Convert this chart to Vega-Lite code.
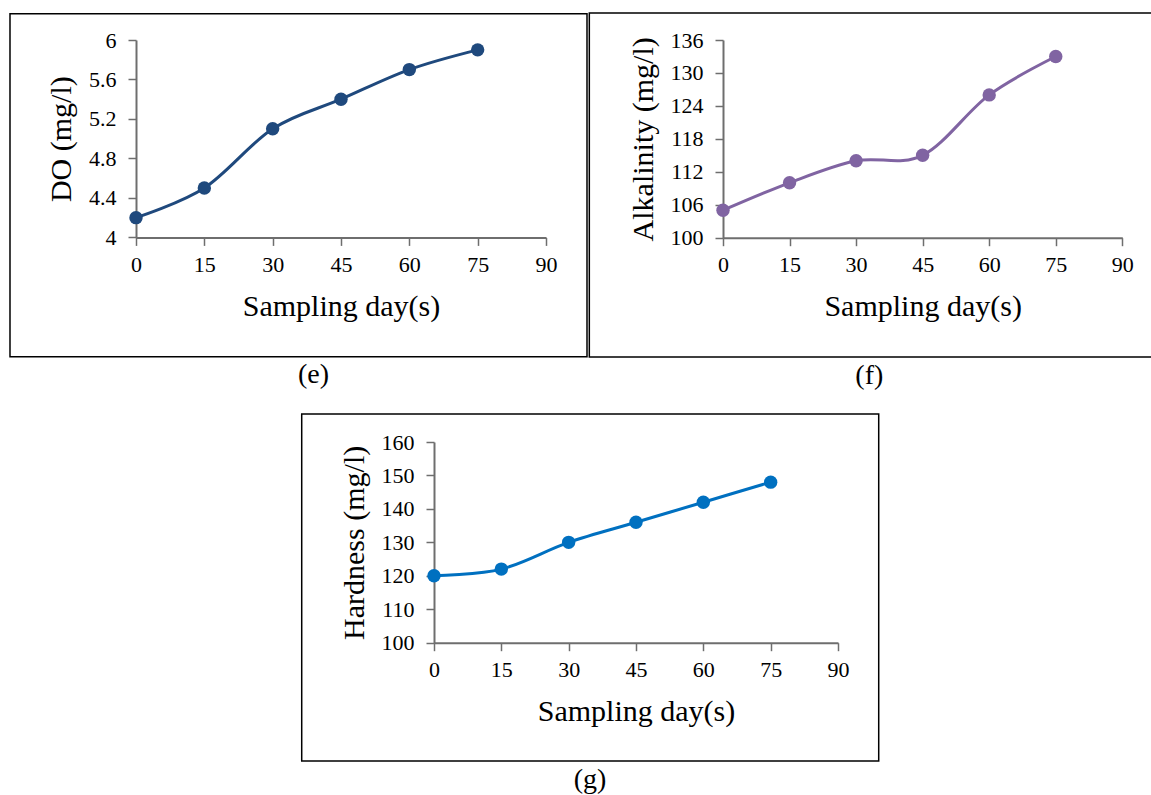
{
  "$schema": "https://vega.github.io/schema/vega-lite/v6.json",
  "padding": {"left": 9, "top": 12, "right": 0, "bottom": 0},
  "background": "white",
  "config": {
    "view": {"stroke": null},
    "font": "Liberation Serif",
    "axis": {
      "grid": false,
      "domainColor": "#6e6e6e", "domainWidth": 2,
      "tickColor": "#6e6e6e", "tickWidth": 1.5, "tickSize": 8,
      "labelFont": "Liberation Serif", "labelFontSize": 22, "labelColor": "#000000",
      "labelFlush": false, "labelOverlap": false,
      "titleFont": "Liberation Serif", "titleFontSize": 30, "titleFontWeight": "normal", "titleColor": "#000000"
    },
    "axisX": {"labelPadding": 9, "titlePadding": 16},
    "axisY": {"labelPadding": 12, "titlePadding": 12},
    "title": {"font": "Liberation Serif", "fontSize": 28, "fontWeight": "normal", "color": "#000000", "orient": "bottom", "anchor": "middle", "frame": "bounds", "offset": 4}
  },
  "spacing": 23,
  "vconcat": [
    {
      "spacing": 0,
      "hconcat": [
        {
          "width": 410, "height": 197.4,
          "title": {"text": "(e)", "dx": 15},
          "layer": [
            {
              "data": {"values": [
                {"day": 0, "DO": 4.2}, {"day": 15, "DO": 4.5}, {"day": 30, "DO": 5.1},
                {"day": 45, "DO": 5.4}, {"day": 60, "DO": 5.7}, {"day": 75, "DO": 5.9}
              ]},
              "encoding": {
                "x": {"field": "day", "type": "quantitative", "scale": {"domain": [0, 90], "nice": false},
                      "axis": {"values": [0, 15, 30, 45, 60, 75, 90], "format": "d", "title": "Sampling day(s)"}},
                "y": {"field": "DO", "type": "quantitative", "scale": {"domain": [4, 6], "nice": false, "zero": false},
                      "axis": {"values": [4, 4.4, 4.8, 5.2, 5.6, 6], "format": ".1~f", "title": "DO (mg/l)"}}
              },
              "layer": [
                {"mark": {"type": "line", "interpolate": "cardinal", "color": "#1F497D", "strokeWidth": 3}},
                {"mark": {"type": "circle", "size": 180, "color": "#1F497D", "opacity": 1}}
              ]
            },
            {
              "data": {"values": [{}]},
              "mark": {"type": "rect", "fill": null, "stroke": "#000000", "strokeWidth": 1.5, "clip": false},
              "encoding": {
                "x": {"datum": -27.66, "type": "quantitative",
                      "axis": {"values": [0, 15, 30, 45, 60, 75, 90], "format": "d", "title": "Sampling day(s)"}},
                "x2": {"datum": 99.0},
                "y": {"datum": 6.266, "type": "quantitative",
                      "axis": {"values": [4, 4.4, 4.8, 5.2, 5.6, 6], "format": ".1~f", "title": "DO (mg/l)"}},
                "y2": {"datum": 2.791}
              }
            }
          ]
        },
        {
          "width": 399.3, "height": 197.7,
          "title": {"text": "(f)", "dx": -2},
          "layer": [
            {
              "data": {"values": [
                {"day": 0, "Alkalinity": 105}, {"day": 15, "Alkalinity": 110}, {"day": 30, "Alkalinity": 114},
                {"day": 45, "Alkalinity": 115}, {"day": 60, "Alkalinity": 126}, {"day": 75, "Alkalinity": 133}
              ]},
              "encoding": {
                "x": {"field": "day", "type": "quantitative", "scale": {"domain": [0, 90], "nice": false},
                      "axis": {"values": [0, 15, 30, 45, 60, 75, 90], "format": "d", "title": "Sampling day(s)"}},
                "y": {"field": "Alkalinity", "type": "quantitative", "scale": {"domain": [100, 136], "nice": false, "zero": false},
                      "axis": {"values": [100, 106, 112, 118, 124, 130, 136], "format": "d", "title": "Alkalinity (mg/l)"}}
              },
              "layer": [
                {"mark": {"type": "line", "interpolate": "cardinal", "color": "#8064A2", "strokeWidth": 3}},
                {"mark": {"type": "circle", "size": 180, "color": "#8064A2", "opacity": 1}}
              ]
            },
            {
              "data": {"values": [{}]},
              "mark": {"type": "rect", "fill": null, "stroke": "#000000", "strokeWidth": 1.5, "clip": false},
              "encoding": {
                "x": {"datum": -30.13, "type": "quantitative",
                      "axis": {"values": [0, 15, 30, 45, 60, 75, 90], "format": "d", "title": "Sampling day(s)"}},
                "x2": {"datum": 97.0},
                "y": {"datum": 140.92, "type": "quantitative",
                      "axis": {"values": [100, 106, 112, 118, 124, 130, 136], "format": "d", "title": "Alkalinity (mg/l)"}},
                "y2": {"datum": 78.28}
              }
            }
          ]
        }
      ]
    },
    {
      "spacing": 0,
      "hconcat": [
        {
          "width": 164, "height": 1,
          "data": {"values": []},
          "mark": {"type": "point", "opacity": 0}
        },
        {
          "width": 404, "height": 200.7,
          "title": {"text": "(g)", "frame": "group", "dx": -46},
          "layer": [
            {
              "data": {"values": [
                {"day": 0, "Hardness": 120}, {"day": 15, "Hardness": 122}, {"day": 30, "Hardness": 130},
                {"day": 45, "Hardness": 136}, {"day": 60, "Hardness": 142}, {"day": 75, "Hardness": 148}
              ]},
              "encoding": {
                "x": {"field": "day", "type": "quantitative", "scale": {"domain": [0, 90], "nice": false},
                      "axis": {"values": [0, 15, 30, 45, 60, 75, 90], "format": "d", "title": "Sampling day(s)"}},
                "y": {"field": "Hardness", "type": "quantitative", "scale": {"domain": [100, 160], "nice": false, "zero": false},
                      "axis": {"values": [100, 110, 120, 130, 140, 150, 160], "format": "d", "title": "Hardness (mg/l)"}}
              },
              "layer": [
                {"mark": {"type": "line", "interpolate": "cardinal", "color": "#0070C0", "strokeWidth": 3}},
                {"mark": {"type": "circle", "size": 180, "color": "#0070C0", "opacity": 1}}
              ]
            },
            {
              "data": {"values": [{}]},
              "mark": {"type": "rect", "fill": null, "stroke": "#000000", "strokeWidth": 1.5, "clip": false},
              "encoding": {
                "x": {"datum": -29.47, "type": "quantitative",
                      "axis": {"values": [0, 15, 30, 45, 60, 75, 90], "format": "d", "title": "Sampling day(s)"}},
                "x2": {"datum": 99.07},
                "y": {"datum": 168.37, "type": "quantitative",
                      "axis": {"values": [100, 110, 120, 130, 140, 150, 160], "format": "d", "title": "Hardness (mg/l)"}},
                "y2": {"datum": 64.63}
              }
            }
          ]
        }
      ]
    }
  ]
}
